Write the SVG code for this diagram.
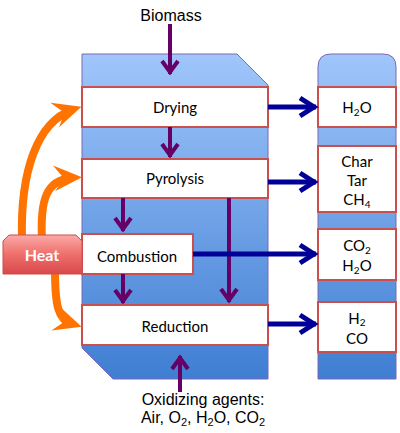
<svg xmlns="http://www.w3.org/2000/svg" width="400" height="433" viewBox="0 0 400 433">
<defs>
<linearGradient id="blueGrad" x1="0" y1="0" x2="0" y2="1">
<stop offset="0" stop-color="#a0c6fb"/>
<stop offset="1" stop-color="#3f7ed2"/>
</linearGradient>
<linearGradient id="heatGrad" x1="0" y1="0" x2="0" y2="1">
<stop offset="0" stop-color="#fbaaa8"/>
<stop offset="0.5" stop-color="#ee6f6c"/>
<stop offset="1" stop-color="#d9484a"/>
</linearGradient>
<marker id="purpleHead" markerUnits="userSpaceOnUse" markerWidth="30" markerHeight="30" viewBox="-20 -15 30 30" refX="0" refY="0" orient="auto" overflow="visible">
<path d="M-13,-8 L-2,0 L-13,8" fill="none" stroke="#660066" stroke-width="4"/>
</marker>
<marker id="blueHead" markerUnits="userSpaceOnUse" markerWidth="30" markerHeight="30" viewBox="-20 -15 30 30" refX="0" refY="0" orient="auto" overflow="visible">
<path d="M-16,-9 L-2,0 L-16,9" fill="none" stroke="#000099" stroke-width="5"/>
</marker>
<marker id="orangeHead" markerUnits="userSpaceOnUse" markerWidth="40" markerHeight="40" viewBox="-30 -20 40 40" refX="0" refY="0" orient="auto" overflow="visible">
<path d="M10,0 L-18,-14 L-8,0 L-18,12 Z" fill="#ff7400"/>
</marker>
</defs>
<style>
.box{fill:#ffffff;stroke:#c9504d;stroke-width:2}
.shell{fill:url(#blueGrad);stroke:#7a68b8;stroke-width:1}
.lbl{font-family:Lato,"Open Sans","DejaVu Sans",sans-serif;font-size:15px;fill:#000;text-anchor:middle}
.ext{font-family:"Liberation Sans",Arial,sans-serif;font-size:16px;fill:#000;text-anchor:middle}
.pur{fill:none;stroke:#660066;stroke-width:4;marker-end:url(#purpleHead)}
.blu{fill:none;stroke:#000099;stroke-width:5;marker-end:url(#blueHead)}
.org{fill:none;stroke:#ff7400;stroke-width:8;marker-end:url(#orangeHead)}
.sub{font-size:10px}
</style>

<g id="reactor">
<path class="shell" d="M82,54 L237,54 L268,85 L268,379 L113,379 L82,348 Z"/>
</g>
<g id="products-column">
<path class="shell" d="M318,379 L318,67 Q318,54 331,54 L383,54 Q396,54 396,67 L396,379 Z"/>
</g>

<g id="drying">
<rect class="box" x="82" y="87" width="186" height="40"/>
<text class="lbl" x="175" y="113">Drying</text>
</g>
<g id="pyrolysis">
<rect class="box" x="82" y="159" width="186" height="39"/>
<text class="lbl" x="175" y="184">Pyrolysis</text>
</g>
<g id="combustion">
<rect class="box" x="82" y="234" width="111" height="40"/>
<text class="lbl" x="137" y="262">Combustion</text>
</g>
<g id="reduction">
<rect class="box" x="82" y="305" width="186" height="40"/>
<text class="lbl" x="175" y="332">Reduction</text>
</g>

<g id="p-h2o">
<rect class="box" x="318" y="87" width="78" height="40"/>
<text class="lbl" x="357" y="113">H<tspan class="sub" dy="3">2</tspan><tspan dy="-3">O</tspan></text>
</g>
<g id="p-char">
<rect class="box" x="318" y="146" width="78" height="66"/>
<text class="lbl" x="357" y="167">Char</text>
<text class="lbl" x="357" y="186">Tar</text>
<text class="lbl" x="357" y="205">CH<tspan class="sub" dy="3">4</tspan></text>
</g>
<g id="p-co2">
<rect class="box" x="318" y="229" width="78" height="51"/>
<text class="lbl" x="357" y="251">CO<tspan class="sub" dy="3">2</tspan></text>
<text class="lbl" x="357" y="271">H<tspan class="sub" dy="3">2</tspan><tspan dy="-3">O</tspan></text>
</g>
<g id="p-h2">
<rect class="box" x="318" y="302" width="78" height="50"/>
<text class="lbl" x="357" y="324">H<tspan class="sub" dy="2">2</tspan></text>
<text class="lbl" x="357" y="344">CO</text>
</g>

<g id="connectors">
<path class="pur" d="M170,24 L170,74"/>
<path class="pur" d="M170,127 L170,157"/>
<path class="pur" d="M123,198 L123,231"/>
<path class="pur" d="M229,198 L229,302"/>
<path class="pur" d="M123,274 L123,303"/>
<path class="pur" d="M180,392 L180,356"/>
<path class="blu" d="M268,107 L316,107"/>
<path class="blu" d="M268,182 L316,182"/>
<path class="blu" d="M193,254 L316,254"/>
<path class="blu" d="M268,324 L316,324"/>
<path class="org" d="M22,240 C20,170 38,122 72,110"/>
<path class="org" d="M42,240 C40,200 46,180 72,178"/>
<path class="org" d="M55,270 C55,305 58,320 72,324"/>
</g>

<g id="heat">
<path d="M9,235 L76,235 L82,241 L82,274 L3,274 L3,241 Z" fill="url(#heatGrad)" stroke="#c9504d" stroke-width="1"/>
<text x="42" y="261" font-family="Lato,'Open Sans',sans-serif" font-size="16" font-weight="bold" fill="#ffffff" text-anchor="middle">Heat</text>
</g>

<g id="labels">
<text class="ext" x="171" y="21">Biomass</text>
<text class="ext" x="203" y="405">Oxidizing agents:</text>
<text class="ext" x="203" y="423">Air, O<tspan font-size="11" dy="3">2</tspan><tspan dy="-3">, H</tspan><tspan font-size="11" dy="3">2</tspan><tspan dy="-3">O, CO</tspan><tspan font-size="11" dy="3">2</tspan></text>
</g>
</svg>
